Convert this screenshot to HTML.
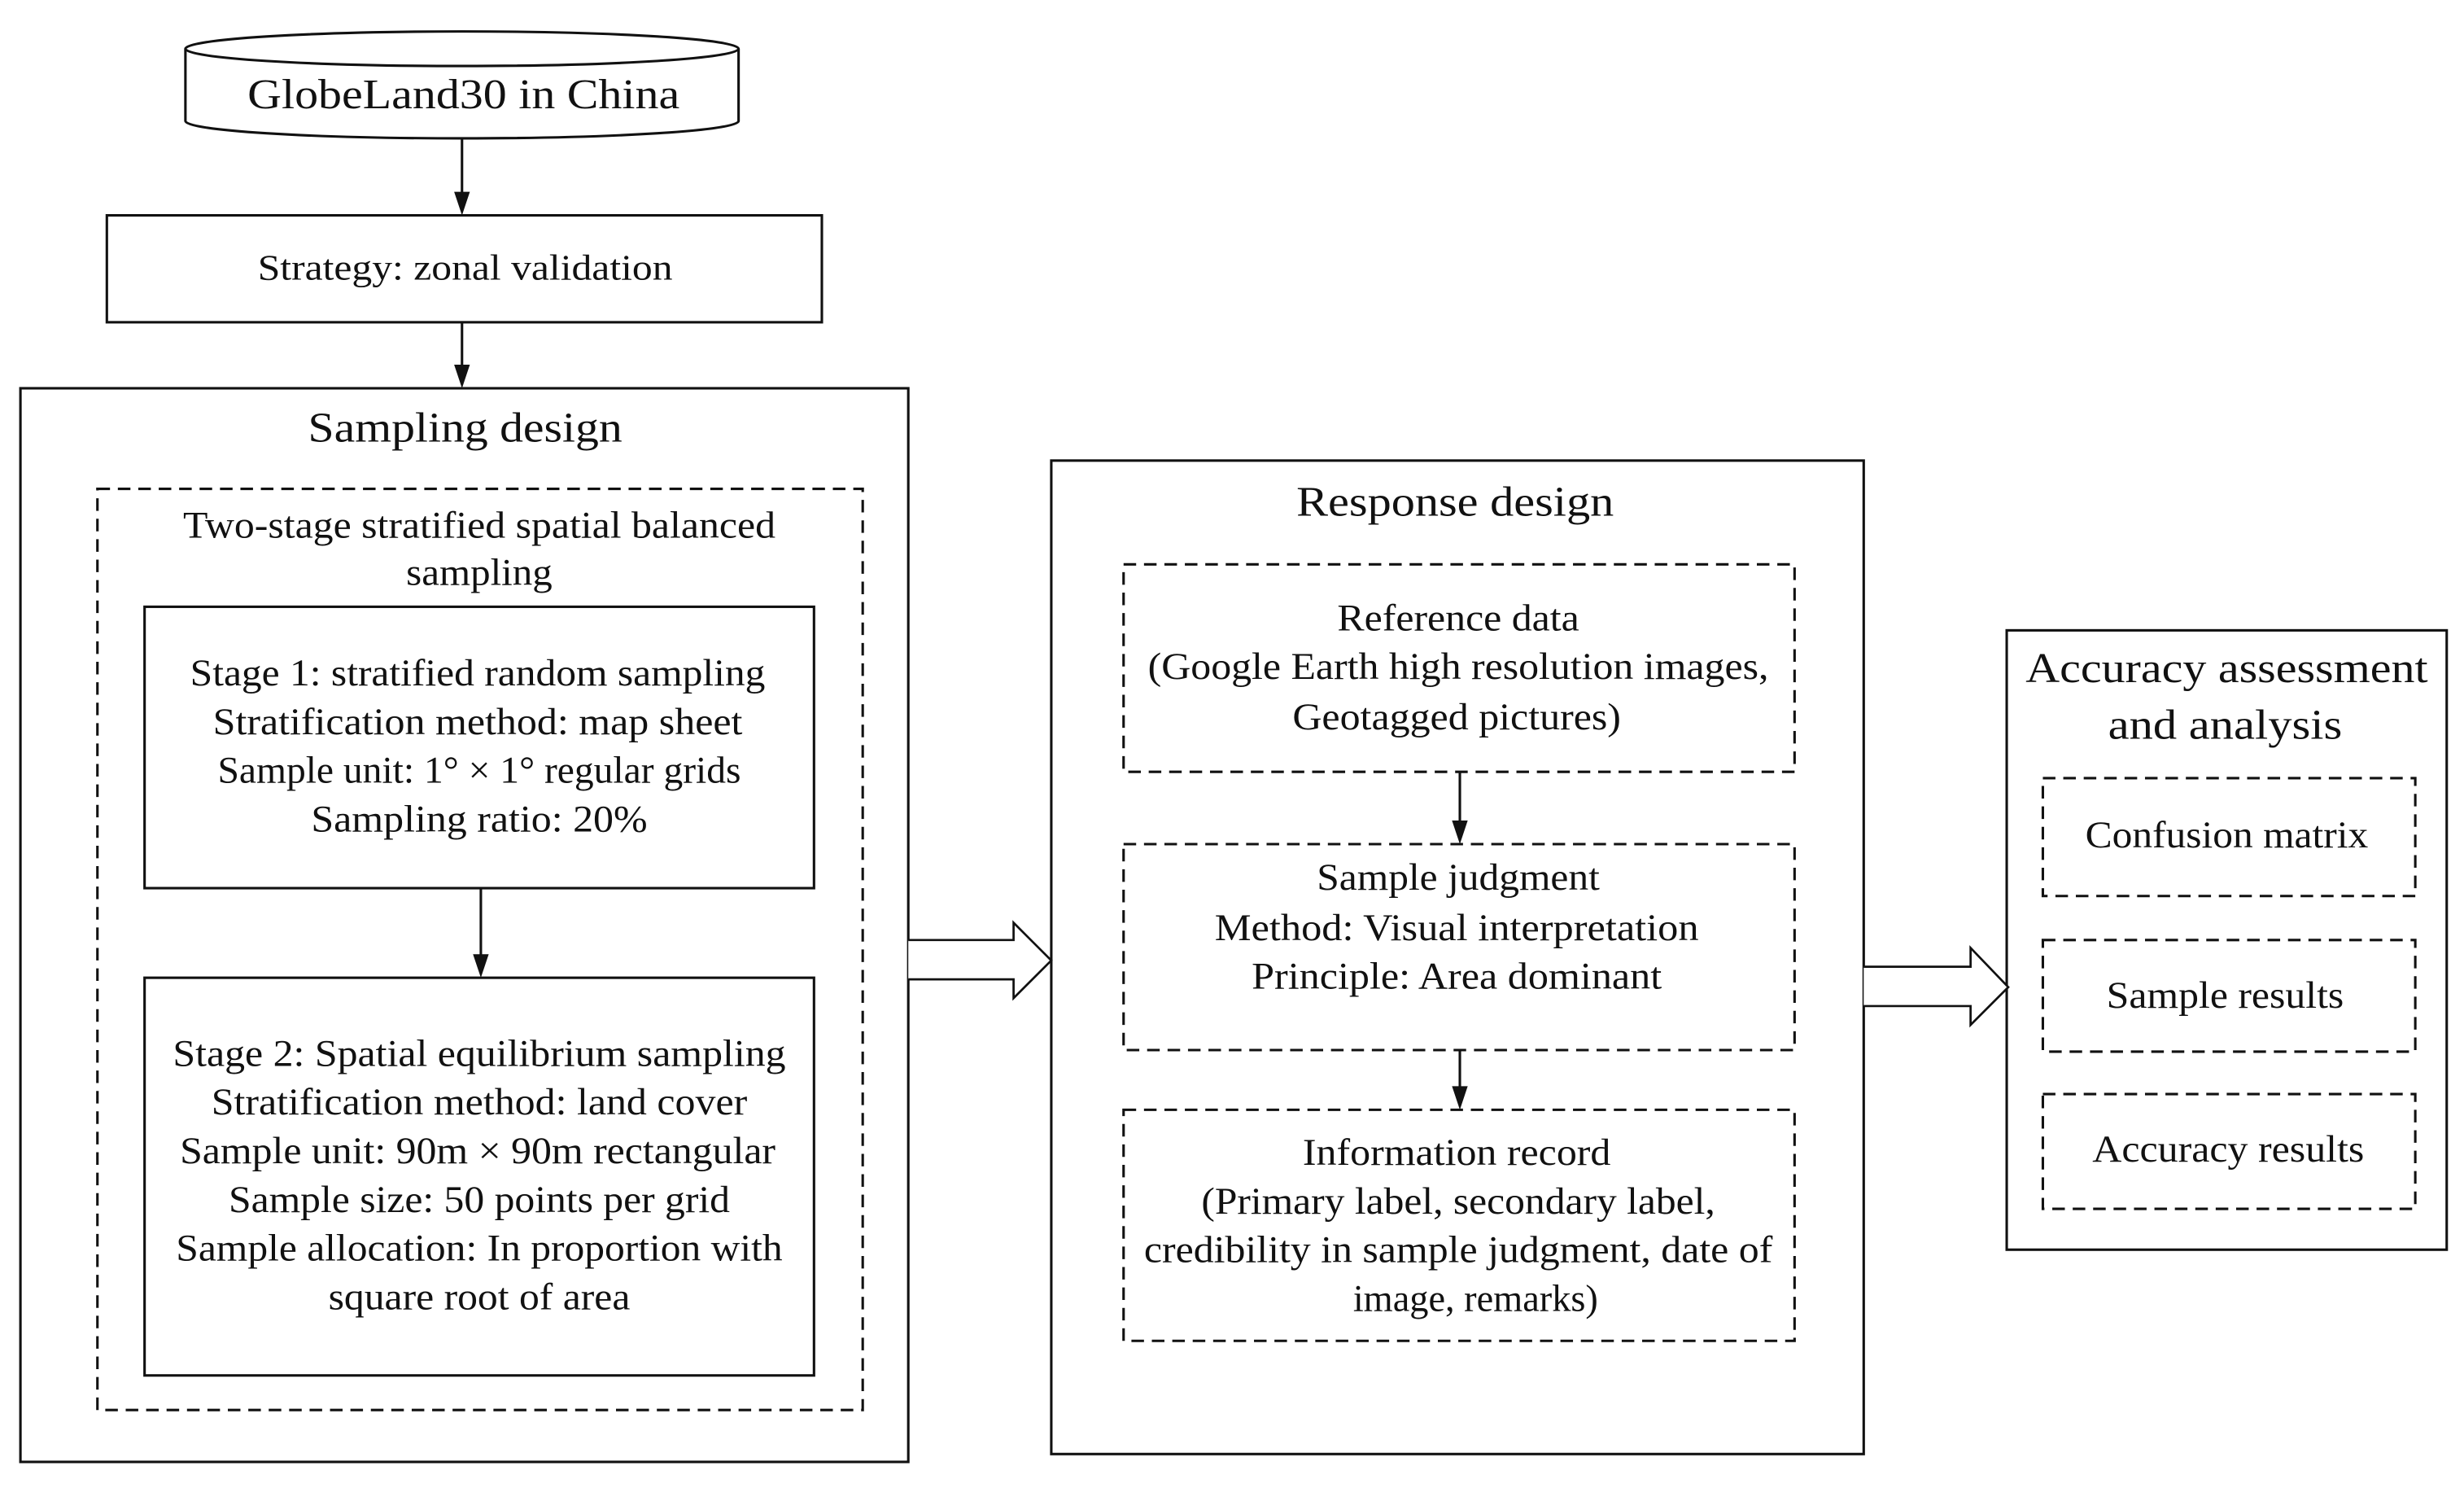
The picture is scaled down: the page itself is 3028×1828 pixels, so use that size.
<!DOCTYPE html>
<html><head><meta charset="utf-8"><style>
html,body{margin:0;padding:0;background:#fff;}
svg{display:block;}
text{font-family:"Liberation Serif",serif;fill:#111;}
</style></head><body>
<svg width="3028" height="1828" viewBox="0 0 1568 946.6" preserveAspectRatio="none" xmlns="http://www.w3.org/2000/svg">
<g fill="#fff" stroke="#111" stroke-width="1.6">
<path d="M118,31 L118,77 A176,11 0 0 0 470,77 L470,31"/>
<ellipse cx="294" cy="31" rx="176" ry="11"/>
<rect x="68" y="137" width="455" height="68"/>
<rect x="13" y="247" width="565" height="683"/>
<rect x="62" y="311" width="487" height="586" stroke-dasharray="8,5"/>
<rect x="92" y="386" width="426" height="179"/>
<rect x="92" y="622" width="426" height="253"/>
<rect x="669" y="293" width="517" height="632"/>
<rect x="715" y="359" width="427" height="132" stroke-dasharray="8,5"/>
<rect x="715" y="537" width="427" height="131" stroke-dasharray="8,5"/>
<rect x="715" y="706" width="427" height="147" stroke-dasharray="8,5"/>
<rect x="1277" y="401" width="280" height="394"/>
<rect x="1300" y="495" width="237" height="75" stroke-dasharray="8,5"/>
<rect x="1300" y="598" width="237" height="71" stroke-dasharray="8,5"/>
<rect x="1300" y="696" width="237" height="73" stroke-dasharray="8,5"/>
<path d="M578,598 L645,598 L645,587 L669,611 L645,635 L645,623 L578,623" stroke-width="1.4"/>
<path d="M1186,615 L1254,615 L1254,603 L1278,628 L1254,652 L1254,640 L1186,640" stroke-width="1.4"/>
</g>
<g stroke="#111" stroke-width="1.6">
<line x1="294" y1="88" x2="294" y2="125"/>
<line x1="294" y1="205" x2="294" y2="235"/>
<line x1="306" y1="565" x2="306" y2="610"/>
<line x1="929" y1="491" x2="929" y2="525"/>
<line x1="929" y1="668" x2="929" y2="694"/>
</g>
<g fill="#111">
<path d="M289,122 L299,122 L294,137 Z"/>
<path d="M289,232 L299,232 L294,247 Z"/>
<path d="M301,607 L311,607 L306,622 Z"/>
<path d="M924,522 L934,522 L929,537 Z"/>
<path d="M924,691 L934,691 L929,706 Z"/>
</g>
<g text-anchor="middle" font-size="24">
<text x="295" y="69" font-size="27" textLength="275" lengthAdjust="spacingAndGlyphs">GlobeLand30 in China</text>
<text x="296" y="178" font-size="23" textLength="264" lengthAdjust="spacingAndGlyphs">Strategy: zonal validation</text>
<text x="296" y="281" font-size="27" textLength="200" lengthAdjust="spacingAndGlyphs">Sampling design</text>
<text x="305" y="342" textLength="377" lengthAdjust="spacingAndGlyphs">Two-stage stratified spatial balanced</text>
<text x="305" y="372" textLength="93" lengthAdjust="spacingAndGlyphs">sampling</text>
<text x="304" y="436" textLength="366" lengthAdjust="spacingAndGlyphs">Stage 1: stratified random sampling</text>
<text x="304" y="467" textLength="337" lengthAdjust="spacingAndGlyphs">Stratification method: map sheet</text>
<text x="305" y="498" textLength="333" lengthAdjust="spacingAndGlyphs">Sample unit: 1° × 1° regular grids</text>
<text x="305" y="529" textLength="214" lengthAdjust="spacingAndGlyphs">Sampling ratio: 20%</text>
<text x="305" y="678" textLength="390" lengthAdjust="spacingAndGlyphs">Stage 2: Spatial equilibrium sampling</text>
<text x="305" y="709" textLength="341" lengthAdjust="spacingAndGlyphs">Stratification method: land cover</text>
<text x="304" y="740" textLength="379" lengthAdjust="spacingAndGlyphs">Sample unit: 90m × 90m rectangular</text>
<text x="305" y="771" textLength="319" lengthAdjust="spacingAndGlyphs">Sample size: 50 points per grid</text>
<text x="305" y="802" textLength="386" lengthAdjust="spacingAndGlyphs">Sample allocation: In proportion with</text>
<text x="305" y="833" textLength="192" lengthAdjust="spacingAndGlyphs">square root of area</text>
<text x="926" y="328" font-size="27" textLength="202" lengthAdjust="spacingAndGlyphs">Response design</text>
<text x="928" y="401" textLength="154" lengthAdjust="spacingAndGlyphs">Reference data</text>
<text x="928" y="432" textLength="395" lengthAdjust="spacingAndGlyphs">(Google Earth high resolution images,</text>
<text x="927" y="464" textLength="209" lengthAdjust="spacingAndGlyphs">Geotagged pictures)</text>
<text x="928" y="566" textLength="180" lengthAdjust="spacingAndGlyphs">Sample judgment</text>
<text x="927" y="598" textLength="308" lengthAdjust="spacingAndGlyphs">Method: Visual interpretation</text>
<text x="927" y="629" textLength="261" lengthAdjust="spacingAndGlyphs">Principle: Area dominant</text>
<text x="927" y="741" textLength="196" lengthAdjust="spacingAndGlyphs">Information record</text>
<text x="928" y="772" textLength="327" lengthAdjust="spacingAndGlyphs">(Primary label, secondary label,</text>
<text x="928" y="803" textLength="400" lengthAdjust="spacingAndGlyphs">credibility in sample judgment, date of</text>
<text x="939" y="834">image, remarks)</text>
<text x="1417" y="434" font-size="27" textLength="256" lengthAdjust="spacingAndGlyphs">Accuracy assessment</text>
<text x="1416" y="470" font-size="27" textLength="149" lengthAdjust="spacingAndGlyphs">and analysis</text>
<text x="1417" y="539" textLength="180" lengthAdjust="spacingAndGlyphs">Confusion matrix</text>
<text x="1416" y="641" textLength="151" lengthAdjust="spacingAndGlyphs">Sample results</text>
<text x="1418" y="739" textLength="173" lengthAdjust="spacingAndGlyphs">Accuracy results</text>
</g>
</svg>
</body></html>
